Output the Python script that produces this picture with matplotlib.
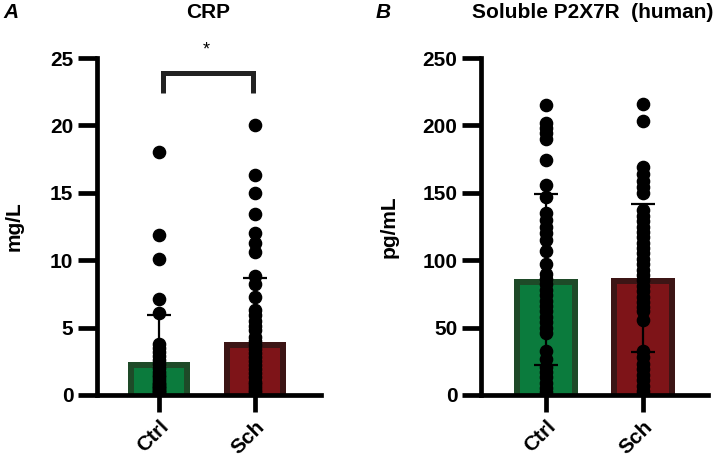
import matplotlib
matplotlib.use("Agg")
import matplotlib.pyplot as plt
import numpy as np

plt.rcParams['font.family'] = ['Liberation Sans', 'DejaVu Sans']
plt.rcParams['font.weight'] = 'bold'

categories = ["Ctrl", "Sch"]

# Panel A: CRP (mg/L)
crp_ctrl = [18.0, 11.9, 10.1, 7.1, 6.1, 3.8, 3.5, 3.2, 2.9, 2.6, 2.3, 2.0, 1.7,
            1.5, 1.3, 1.1, 0.9, 0.8, 0.7, 0.6, 0.5, 0.4, 0.3, 0.2, 0.1, 0.1]
crp_sch = [20.0, 16.3, 15.0, 13.4, 12.0, 11.3, 10.6, 8.8, 8.2, 7.3, 6.3, 5.9,
           5.5, 5.1, 4.8, 4.3, 4.0, 3.7, 3.4, 3.1, 2.8, 2.5, 2.2, 1.9, 1.6, 1.3,
           1.0, 0.8, 0.6, 0.4, 0.2, 0.1]
crp_mean = [2.45, 3.93]
crp_sd = [3.48, 4.77]

# Panel B: Soluble P2X7R (pg/mL)
p2x_ctrl = [215, 202, 198, 194, 190, 174, 156, 147, 135, 130, 125, 120, 115,
            107, 97, 90, 86, 82, 78, 74, 70, 66, 62, 58, 54, 50, 46, 33, 27,
            21, 17, 13, 9, 5, 2]
p2x_sch = [216, 203, 169, 164, 159, 154, 150, 137, 133, 129, 125, 121, 117,
           113, 109, 105, 101, 97, 93, 89, 85, 81, 77, 73, 69, 65, 62, 56,
           33, 28, 23, 19, 15, 11, 7, 3, 1]
p2x_mean = [85.7, 87.0]
p2x_sd = [63.7, 55.0]

fill_colors = ["#0b7b3d", "#7e1418"]
edge_colors = ["#1e4a28", "#3c1515"]

FS = 15
W, H = 717, 459
fig = plt.figure(figsize=(W / 100, H / 100), dpi=100)

def px_axes(left, right, bottom, top):
    return fig.add_axes([left / W, 1 - bottom / H, (right - left) / W, (bottom - top) / H])

def draw_panel(ax, vals, means, sds, ylim, yticks, xlim, width):
    x = np.arange(len(categories))
    ax.set_xlim(*xlim)
    ax.set_ylim(*ylim)
    # border of ~6 px drawn inside the bar outline
    bw = 6.0
    ax_w_px = ax.get_position().width * W
    ax_h_px = ax.get_position().height * H
    dx = bw * (xlim[1] - xlim[0]) / ax_w_px
    dy = bw * (ylim[1] - ylim[0]) / ax_h_px
    ax.bar(x, means, width=width, color=edge_colors, linewidth=0, zorder=1)
    ax.bar(x, [m - dy for m in means], width=width - 2 * dx, color=fill_colors,
           linewidth=0, zorder=1.1)
    for i, v in enumerate(vals):
        ax.plot(np.full(len(v), x[i]), v, 'o', color='black', markersize=8.8,
                zorder=2)
    ax.errorbar(x, means, yerr=sds, fmt='none', ecolor='black', elinewidth=1.6,
                capsize=8.3, capthick=1.6, zorder=3)
    ax.set_yticks(yticks)
    ax.set_xticks(x)
    ax.set_xticklabels(categories, rotation=45, ha='right', rotation_mode='anchor',
                       fontsize=FS, fontweight='bold')
    for lab in ax.get_yticklabels():
        lab.set_fontsize(FS)
        lab.set_fontweight('bold')
    ax.spines['top'].set_visible(False)
    ax.spines['right'].set_visible(False)
    for s in ['left', 'bottom']:
        ax.spines[s].set_linewidth(3.4)
    ax.tick_params(axis='y', length=14, width=3.4, pad=3)
    ax.tick_params(axis='x', length=12, width=3.4, pad=4)
    ax.set_facecolor('white')

axA = px_axes(97, 321, 395, 58)
draw_panel(axA, [crp_ctrl, crp_sch], crp_mean, crp_sd, (0, 25), [0, 5, 10, 15, 20, 25],
           (-0.646, 1.6875), 0.646)
axA.set_ylabel("mg/L", fontsize=FS, fontweight='bold')
axA.yaxis.set_label_coords(-(97 - 24) / 224, 0.5)

# significance bracket
axA.plot([0.04, 0.04, 0.98, 0.98], [22.4, 23.9, 23.9, 22.4], color='#222222',
         linewidth=3.6, clip_on=False, solid_joinstyle='miter', solid_capstyle='butt',
         zorder=4)
axA.text(0.49, 25.0, "*", ha='center', va='bottom', fontsize=13, fontweight='normal',
         clip_on=False)

axB = px_axes(481, 708, 395, 58)
draw_panel(axB, [p2x_ctrl, p2x_sch], p2x_mean, p2x_sd, (0, 250), [0, 50, 100, 150, 200, 250],
           (-0.67, 1.67), 0.65)
axB.set_ylabel("pg/mL", fontsize=FS, fontweight='bold')
axB.yaxis.set_label_coords(-(481 - 399) / 227, 0.5)

fig.text(208 / W, 1 - 13 / H, "CRP", ha='center', va='center', fontsize=FS,
         fontweight='bold')
fig.text(593 / W, 1 - 13 / H, "Soluble P2X7R  (human)", ha='center', va='center',
         fontsize=FS, fontweight='bold')
fig.text(3 / W, 1 - 13 / H, "A", ha='left', va='center', fontsize=FS,
         fontweight='bold', style='italic')
fig.text(376 / W, 1 - 13 / H, "B", ha='left', va='center', fontsize=FS,
         fontweight='bold', style='italic')

fig.savefig("out.png", dpi=100, facecolor='white')
